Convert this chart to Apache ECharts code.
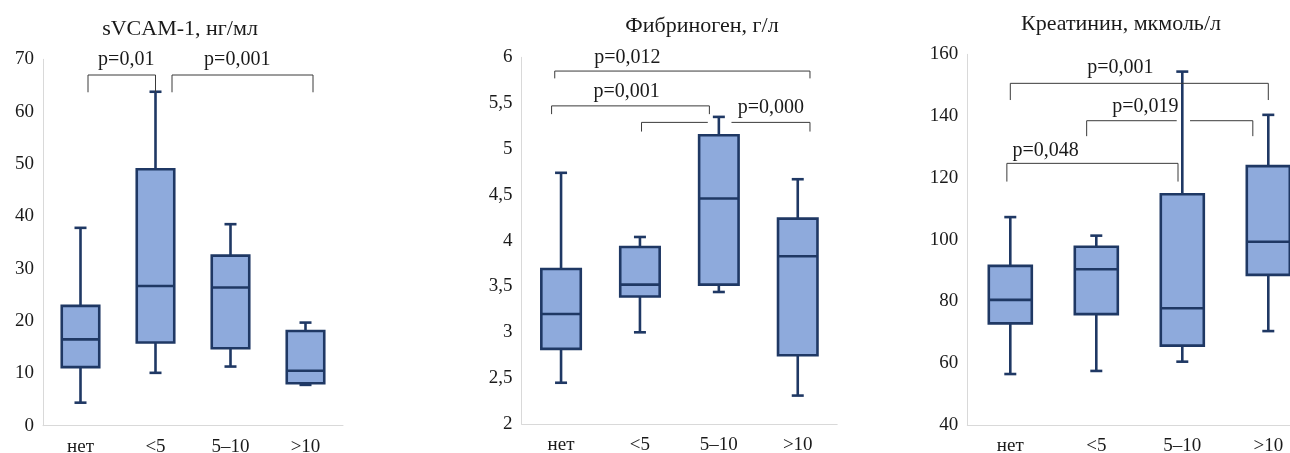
<!DOCTYPE html>
<html>
<head>
<meta charset="utf-8">
<script src="https://cdn.jsdelivr.net/npm/echarts@6/dist/echarts.min.js"></script>
<style>
  html, body { margin: 0; padding: 0; background: #ffffff; }
  #chart { width: 1290px; height: 453px; }
</style>
</head>
<body>
<div id="chart"></div>
<script>
// Groups by disease duration
const categories = ['нет', '<5', '5–10', '>10'];

// sVCAM-1, нг/мл — whisker low, Q1, median, Q3, whisker high
const vcamMin = [4.4, 10.1, 11.3, 7.8];
const vcamQ1 = [11.2, 15.9, 14.8, 8.1];
const vcamMed = [16.5, 26.7, 26.4, 10.5];
const vcamQ3 = [22.9, 49.0, 32.5, 18.1];
const vcamMax = [37.8, 63.8, 38.5, 19.7];

// Фибриноген, г/л
const fibMin = [2.45, 3.0, 3.44, 2.31];
const fibQ1 = [2.82, 3.39, 3.52, 2.75];
const fibMed = [3.20, 3.52, 4.46, 3.83];
const fibQ3 = [3.69, 3.93, 5.15, 4.24];
const fibMax = [4.74, 4.04, 5.35, 4.67];

// Креатинин, мкмоль/л
const creMin = [56.5, 57.5, 60.5, 70.4];
const creQ1 = [72.9, 75.9, 65.7, 88.6];
const creMed = [80.5, 90.4, 77.8, 99.3];
const creQ3 = [91.5, 97.7, 114.7, 123.8];
const creMax = [107.3, 101.3, 154.4, 140.4];

// Pairwise comparisons: group span (in category units), bracket height and p-value
const vcamPairs = [
  { from: 0.1, to: 1.0, top: 67.0, drop: 63.7, text: 'p=0,01', tx: 0.61, ty: 70 },
  { from: 1.22, to: 3.1, top: 67.0, drop: 63.7, text: 'p=0,001', tx: 2.09, ty: 70 }
];
const fibPairs = [
  { from: -0.08, to: 3.155, top: 5.85, drop: 5.77, text: 'p=0,012', tx: 0.84, ty: 6.0 },
  { from: -0.12, to: 1.88, top: 5.47, drop: 5.38, text: 'p=0,001', tx: 0.83, ty: 5.62 },
  { from: 1.02, to: 3.155, top: 5.29, drop: 5.19, gap: [1.86, 2.16], text: 'p=0,000', tx: 2.66, ty: 5.45 }
];
const crePairs = [
  { from: 0.0, to: 3.0, top: 150.6, drop: 145.2, text: 'p=0,001', tx: 1.28, ty: 155.7 },
  { from: 0.888, to: 2.82, top: 138.5, drop: 133.5, gap: [1.935, 2.09], text: 'p=0,019', tx: 1.57, ty: 143 },
  { from: -0.04, to: 1.95, top: 124.7, drop: 118.8, text: 'p=0,048', tx: 0.41, ty: 128.7 }
];

const titles = ['sVCAM-1, нг/мл', 'Фибриноген, г/л', 'Креатинин, мкмоль/л'];

const SERIF = '"Liberation Serif", "Times New Roman", serif';
const BOX_FILL = '#8eaadc';
const BOX_EDGE = '#1f3864';
const AXIS_GRAY = '#d9d9d9';
const TEXT = '#1a1a1a';

const panels = [
  { title: titles[0], tx: 180, ty: 29, grid: { left: 43, top: 59.3, width: 300, height: 366.4 },
    y: { min: 0, max: 70, interval: 10 },
    stats: [vcamMin, vcamQ1, vcamMed, vcamQ3, vcamMax], pairs: vcamPairs },
  { title: titles[1], tx: 702, ty: 26.7, grid: { left: 521.6, top: 57.3, width: 315.6, height: 366.7 },
    y: { min: 2, max: 6, interval: 0.5 },
    stats: [fibMin, fibQ1, fibMed, fibQ3, fibMax], pairs: fibPairs },
  { title: titles[2], tx: 1121, ty: 24, grid: { left: 967.3, top: 54.3, width: 344, height: 370.7 },
    y: { min: 40, max: 160, interval: 20 },
    stats: [creMin, creQ1, creMed, creQ3, creMax], pairs: crePairs }
];

function renderBox(params, api) {
  const i = api.value(0);
  const pMin = api.coord([i, api.value(1)]);
  const pQ1 = api.coord([i, api.value(2)]);
  const pMed = api.coord([i, api.value(3)]);
  const pQ3 = api.coord([i, api.value(4)]);
  const pMax = api.coord([i, api.value(5)]);
  const band = api.size([1, 0])[0];
  const half = band * 0.25;
  const cap = 6;
  const cx = pMed[0];
  const line = { stroke: BOX_EDGE, lineWidth: 2.6, fill: null };
  return {
    type: 'group',
    children: [
      { type: 'line', shape: { x1: cx, y1: pQ3[1], x2: cx, y2: pMax[1] }, style: line },
      { type: 'line', shape: { x1: cx - cap, y1: pMax[1], x2: cx + cap, y2: pMax[1] }, style: line },
      { type: 'line', shape: { x1: cx, y1: pQ1[1], x2: cx, y2: pMin[1] }, style: line },
      { type: 'line', shape: { x1: cx - cap, y1: pMin[1], x2: cx + cap, y2: pMin[1] }, style: line },
      { type: 'rect', shape: { x: cx - half, y: pQ3[1], width: half * 2, height: pQ1[1] - pQ3[1] },
        style: { fill: BOX_FILL, stroke: BOX_EDGE, lineWidth: 2.6 } },
      { type: 'line', shape: { x1: cx - half, y1: pMed[1], x2: cx + half, y2: pMed[1] }, style: line }
    ]
  };
}

function makeBracketRenderer(pairs) {
  return function (params, api) {
    const b = pairs[params.dataIndex];
    const a0 = api.coord([b.from, b.top]);
    const a1 = api.coord([b.to, b.top]);
    const d0 = api.coord([b.from, b.drop]);
    const d1 = api.coord([b.to, b.drop]);
    const t = api.coord([b.tx, b.ty]);
    const st = { stroke: '#3a3a3a', lineWidth: 1, fill: null };
    const children = [
      { type: 'line', shape: { x1: d0[0], y1: d0[1], x2: a0[0], y2: a0[1] }, style: st },
      { type: 'line', shape: { x1: d1[0], y1: d1[1], x2: a1[0], y2: a1[1] }, style: st }
    ];
    if (b.gap) {
      const g0 = api.coord([b.gap[0], b.top]);
      const g1 = api.coord([b.gap[1], b.top]);
      children.push({ type: 'line', shape: { x1: a0[0], y1: a0[1], x2: g0[0], y2: g0[1] }, style: st });
      children.push({ type: 'line', shape: { x1: g1[0], y1: g1[1], x2: a1[0], y2: a1[1] }, style: st });
    } else {
      children.push({ type: 'line', shape: { x1: a0[0], y1: a0[1], x2: a1[0], y2: a1[1] }, style: st });
    }
    children.push({
      type: 'text', x: t[0], y: t[1],
      style: { text: b.text, font: '20px ' + SERIF, fill: TEXT, align: 'center', verticalAlign: 'middle' }
    });
    return { type: 'group', children: children };
  };
}

const option = {
  backgroundColor: '#ffffff',
  animation: false,
  grid: [],
  xAxis: [],
  yAxis: [],
  series: [],
  graphic: []
};

panels.forEach(function (p, g) {
  option.grid.push(Object.assign({ containLabel: false, outerBoundsMode: 'none' }, p.grid));
  // visible category axis
  option.xAxis.push({
    type: 'category', gridIndex: g, data: categories,
    axisLine: { show: true, onZero: false, lineStyle: { color: AXIS_GRAY, width: 1 } },
    axisTick: { show: false },
    axisLabel: { color: TEXT, fontFamily: SERIF, fontSize: 19, margin: 12 },
    splitLine: { show: false }
  });
  // hidden continuous axis spanning the same bands, used for comparison brackets
  option.xAxis.push({
    type: 'value', gridIndex: g, min: -0.5, max: 3.5, show: false,
    splitLine: { show: false }
  });
  option.yAxis.push({
    type: 'value', gridIndex: g, min: p.y.min, max: p.y.max, interval: p.y.interval,
    axisLine: { show: true, onZero: false, lineStyle: { color: AXIS_GRAY, width: 1 } },
    axisTick: { show: false },
    splitLine: { show: false },
    axisLabel: {
      color: TEXT, fontFamily: SERIF, fontSize: 19, margin: 9,
      formatter: function (v) { return String(v).replace('.', ','); }
    }
  });
  const rows = categories.map(function (c, i) {
    return [i, p.stats[0][i], p.stats[1][i], p.stats[2][i], p.stats[3][i], p.stats[4][i]];
  });
  option.series.push({
    type: 'custom', xAxisIndex: g * 2, yAxisIndex: g,
    renderItem: renderBox,
    encode: { x: 0, y: [1, 2, 3, 4, 5] },
    data: rows
  });
  option.series.push({
    type: 'custom', xAxisIndex: g * 2 + 1, yAxisIndex: g,
    renderItem: makeBracketRenderer(p.pairs),
    encode: { x: 0, y: 1 },
    data: p.pairs.map(function (b) { return [b.from, b.top]; }),
    silent: true
  });
  option.graphic.push({
    type: 'text', x: p.tx, y: p.ty,
    style: { text: p.title, font: '22px ' + SERIF, fill: TEXT, align: 'center', verticalAlign: 'middle' }
  });
});

const chart = echarts.init(document.getElementById('chart'), null, { renderer: 'canvas' });
chart.setOption(option);
</script>
</body>
</html>
